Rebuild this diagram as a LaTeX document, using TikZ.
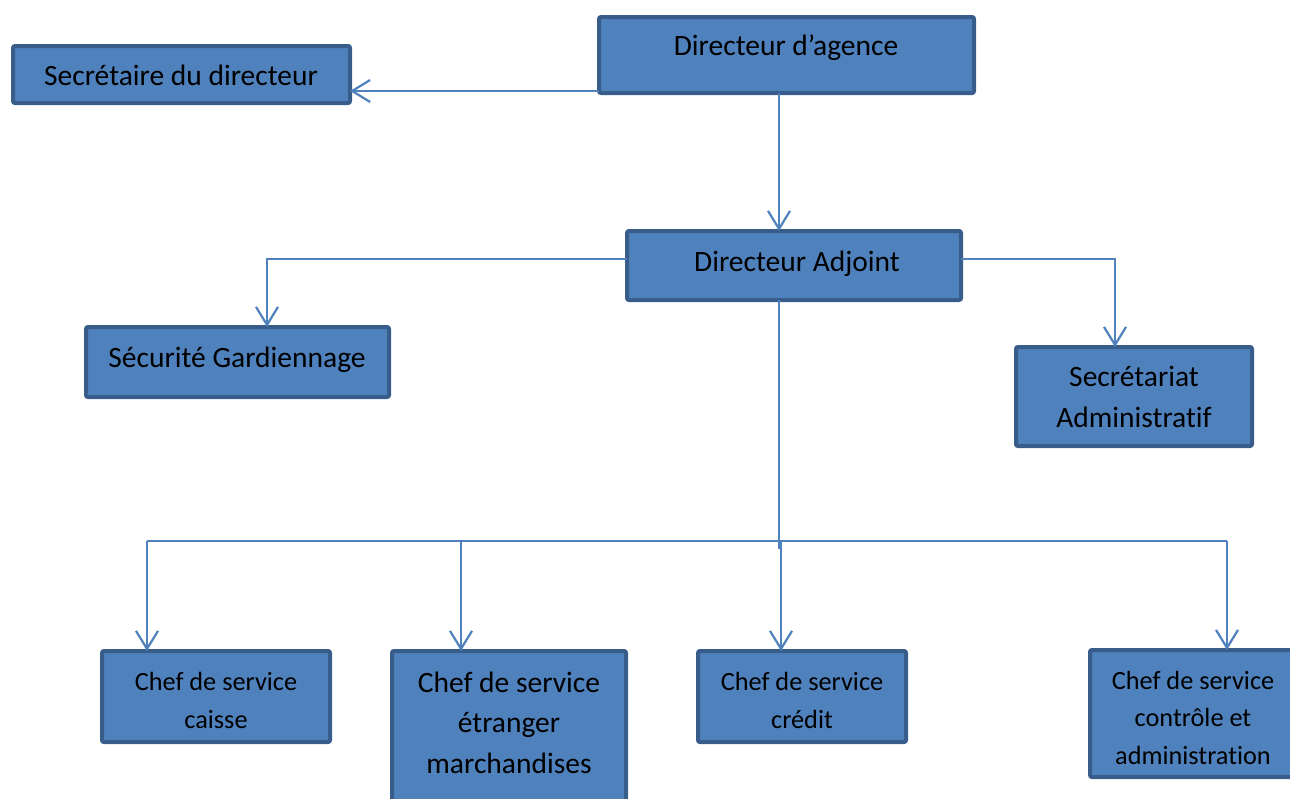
\documentclass[tikz,border=0pt]{standalone}
\usepackage{fontspec}
\setmainfont{Carlito}[Ligatures={NoCommon}]
\usetikzlibrary{arrows.meta}
\definecolor{boxfill}{HTML}{4F81BD}
\definecolor{boxline}{HTML}{385D8A}
\definecolor{linkcol}{HTML}{4F81BD}
\tikzset{
  orgbox/.style={draw=boxline, fill=boxfill, line width=4pt, rounded corners=2pt,
    rectangle, anchor=north west, inner sep=0pt, outer sep=0pt},
  % multi-line labels are placed by the baseline of their last line
  bigtxt/.style={anchor=base, align=center, inner sep=0pt, text=black,
    font=\fontsize{29.5}{40.5}\selectfont},
  smalltxt/.style={anchor=base, align=center, inner sep=0pt, text=black,
    font=\fontsize{26.3}{37.5}\selectfont},
  conn/.style={draw=linkcol, line width=2.2pt,
    -{Straight Barb[length=18pt,width=22pt,line width=2.2pt]}},
  bus/.style={draw=linkcol, line width=2.2pt},
}
\begin{document}
\begin{tikzpicture}[x=1pt,y=-1pt]
\useasboundingbox (0,0) rectangle (1290,798);
\clip (0,0) rectangle (1290,798);

% boxes
\node[orgbox, minimum width=375pt, minimum height=76pt] (da) at (599,17) {};
\node[orgbox, minimum width=337pt, minimum height=57pt] (sd) at (13,46) {};
\node[orgbox, minimum width=334pt, minimum height=69pt] (adj) at (627,231) {};
\node[orgbox, minimum width=303pt, minimum height=70pt] (sg) at (86,327) {};
\node[orgbox, minimum width=236pt, minimum height=99pt] (sa) at (1016,347) {};
\node[orgbox, minimum width=228pt, minimum height=91pt] (c1) at (102,651) {};
\node[orgbox, minimum width=234pt, minimum height=170pt] (c2) at (392,651) {};
\node[orgbox, minimum width=208pt, minimum height=91pt] (c3) at (698,651) {};
\node[orgbox, minimum width=203pt, minimum height=127pt] (c4) at (1090,650) {};

% labels
\node[bigtxt] (da-t) at (786,55.5) {Directeur d’agence};
\node[bigtxt] (sd-t) at (181,85) {Secrétaire du directeur};
\node[bigtxt] (adj-t) at (797,271) {Directeur Adjoint};
\node[bigtxt] (sg-t) at (237,367) {Sécurité Gardiennage};
\node[bigtxt] (sa-t) at (1134,427) {Secrétariat\\Administratif};
\node[smalltxt] (c1-t) at (216,728) {Chef de service\\caisse};
\node[bigtxt] (c2-t) at (509,773) {Chef de service\\étranger\\marchandises};
\node[smalltxt] (c3-t) at (802,728) {Chef de service\\crédit};
\node[smalltxt] (c4-t) at (1193,764) {Chef de service\\contrôle et\\administration};

% connectors
\coordinate (busL) at (147,541);
\coordinate (busR) at (1227,541);
\coordinate (busE) at (461,541);
\coordinate (busC) at (781,541);
\coordinate (stem) at (779,549);
\coordinate (kneeL) at (267,259);
\coordinate (kneeR) at (1115,259);

\draw[conn] (da.west |- 0,91) -- (sd.east |- 0,91);
\draw[conn] (da.south -| stem) -- (adj.north -| stem);
\draw[conn] (adj.west |- kneeL) -- (kneeL) -- (sg.north -| kneeL);
\draw[conn] (adj.east |- kneeR) -- (kneeR) -- (sa.north -| kneeR);
\draw[bus] (adj.south -| stem) -- (stem);
\draw[bus] (busL) -- (busR);
\draw[conn] (busL) -- (c1.north -| busL);
\draw[conn] (busE) -- (c2.north -| busE);
\draw[conn] (busC) -- (c3.north -| busC);
\draw[conn] (busR) -- (c4.north -| busR);
\end{tikzpicture}
\end{document}
